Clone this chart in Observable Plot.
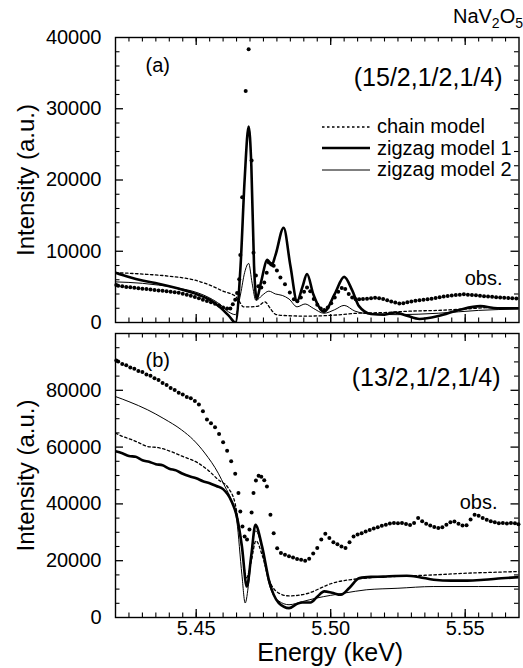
<!DOCTYPE html>
<html>
<head>
<meta charset="utf-8">
<script src="https://cdn.jsdelivr.net/npm/d3@7"></script>
<script src="https://cdn.jsdelivr.net/npm/@observablehq/plot@0.6"></script>
<style>
  body { margin: 0; background: #fff; }
  #wrap { position: relative; width: 523px; height: 668px; font-family: "Liberation Sans", Arial, Helvetica, sans-serif; color: #000; overflow: hidden; }
  #wrap svg { display: block; }
  .abs { position: absolute; }
  .lrow { display: flex; align-items: center; height: 21.5px; font-size: 20px; white-space: nowrap; }
  .lrow svg { margin-right: 7px; }
</style>
</head>
<body>
<div id="wrap"></div>
<script>
// ---------- axis ticks / labels ----------
const xDomain = [5.42, 5.57];
const xMinorTicks = [5.425,5.43,5.435,5.44,5.445,5.45,5.455,5.46,5.465,5.47,5.475,5.48,5.485,5.49,5.495,5.5,5.505,5.51,5.515,5.52,5.525,5.53,5.535,5.54,5.545,5.55,5.555,5.56,5.565];
const xMajorTicks = [5.45, 5.5, 5.55];
const xTickLabels = [5.45, 5.5, 5.55];

const aYDomain = [0, 40000];
const aYMinor = [2000,4000,6000,8000,12000,14000,16000,18000,22000,24000,26000,28000,32000,34000,36000,38000];
const aYMajor = [10000, 20000, 30000];
const aYLabels = [0, 10000, 20000, 30000, 40000];

const bYDomain = [0, 100000];
const bYMinor = [5000,10000,15000,25000,30000,35000,45000,50000,55000,65000,70000,75000,85000,90000,95000];
const bYMajor = [20000, 40000, 60000, 80000];
const bYLabels = [0, 20000, 40000, 60000, 80000];

// ---------- panel (a): (15/2,1/2,1/4) ----------
const obsAE = [
5.4203,5.421,5.4225,5.424,5.4255,5.427,5.4285,5.430,5.4315,5.433,
5.4345,5.436,5.4375,5.439,5.4405,5.442,5.4435,5.445,5.4465,5.448,
5.4495,5.451,5.4525,5.454,5.4555,5.457,5.4585,5.460,5.4615,
5.4627,5.4636,5.4645,5.4652,5.466,5.4664,5.4671,5.4684,5.4695,5.4706,
5.4713,5.4722,5.4731,5.4742,5.4753,5.4762,5.477,5.4779,5.4788,5.48,
5.4813,5.483,5.4848,5.4863,5.4876,5.4889,5.4901,5.4912,5.4924,5.4937,
5.495,5.4963,5.4976,5.4989,5.5002,5.5015,5.5028,5.5041,5.5054,5.5067,
5.508,5.5093,5.5106,
5.512,5.5135,5.515,5.5165,5.518,5.5195,5.521,5.5225,5.524,5.5255,
5.527,5.5285,5.530,5.5315,5.533,5.5345,5.536,5.5375,5.539,5.5405,
5.542,5.5435,5.545,5.5465,5.548,5.5495,5.551,5.5525,5.554,5.5555,
5.557,5.5585,5.560,5.5615,5.563,5.5645,5.566,5.5675,5.569];
const obsAI = [
5250,5160,5080,5000,4930,4880,4800,4740,4690,4620,
4560,4500,4450,4390,4330,4260,4170,4050,3900,3740,
3570,3390,3210,3030,2840,2620,2370,2120,1960,
1950,2560,3200,4150,6080,9460,17580,32500,38340,22750,
9800,6600,5100,4900,5600,7000,8420,8200,7960,7300,
6310,5380,4200,3270,3000,3500,4300,4900,4400,3300,
2500,1950,1750,2100,2700,3500,4300,4850,4700,4000,
3500,3250,3250,
3300,3350,3420,3460,3400,3310,3120,2950,2800,2660,
2700,2850,2960,3040,3110,3200,3260,3350,3440,3560,
3640,3710,3790,3860,3900,3950,3910,3860,3810,3760,
3700,3650,3600,3560,3500,3460,3440,3410,3380];

const chainAE = [5.42,5.43,5.44,5.45,5.456,5.46,5.4645,5.466,5.4675,5.4697,5.473,5.4755,5.4775,5.4795,5.482,5.49,5.50,5.51,5.52,5.53,5.54,5.55,5.56,5.57];
const chainAI = [7000,6800,6500,5900,5100,4400,3700,3000,2200,2200,2300,2900,2000,1150,1000,900,1000,1300,1400,1600,1700,1900,2100,2100];

const zig1AE = [5.42,5.425,5.43,5.436,5.443,5.4507,5.455,5.459,5.462,5.4646,5.4665,5.468,5.4695,5.4705,5.4715,5.4725,5.474,5.4765,5.478,5.4795,5.4825,5.485,5.4875,5.4895,5.4912,5.4935,5.4975,5.5015,5.505,5.508,5.5105,5.515,5.52,5.524,5.528,5.533,5.54,5.548,5.5556,5.562,5.57];
const zig1AI = [7000,6400,5900,5450,4800,3900,3200,2100,1000,0,8000,20000,27500,22000,8000,3300,5500,8800,8000,9500,13300,8000,3000,5000,6800,4000,1500,4000,6400,4500,2300,1200,1100,1400,1000,500,900,1800,2300,2000,2000];

const zig2AE = [5.42,5.43,5.436,5.443,5.4507,5.455,5.459,5.462,5.4646,5.4665,5.468,5.4695,5.4708,5.4722,5.4745,5.477,5.4795,5.482,5.4845,5.4875,5.4905,5.4935,5.4975,5.5015,5.505,5.509,5.515,5.525,5.54,5.555,5.57];
const zig2AI = [5700,5500,5250,4850,4150,3450,2500,1500,1100,4000,7000,8300,5500,3100,3800,4400,4000,3800,3300,2200,2600,2000,1300,1800,2400,1600,1200,1100,1300,1700,1900];

// ---------- panel (b): (13/2,1/2,1/4) ----------
const obsBE = [
5.4203,5.421,5.4225,5.424,5.4255,5.427,5.4285,5.430,5.4315,5.433,
5.4345,5.436,5.4375,5.439,5.4405,5.442,5.4435,5.445,5.4465,5.448,
5.4495,5.451,5.4525,5.454,5.4555,5.457,5.4585,5.460,5.4615,5.463,
5.4645,5.4657,5.4664,5.4672,5.468,5.4689,5.4698,5.4706,5.4713,5.4722,
5.4732,5.4742,5.4753,5.4763,5.4776,5.4788,5.4801,5.4815,5.483,5.4845,
5.486,5.4875,5.489,5.4905,5.492,5.4935,5.495,5.4965,5.498,5.4995,
5.501,5.5025,5.504,5.5055,5.507,5.5085,5.510,5.5115,5.513,5.5145,
5.516,5.5175,5.519,5.5205,5.522,5.5235,5.525,5.5265,5.528,5.5295,
5.531,5.5325,5.534,5.5355,5.537,5.5385,5.540,5.5415,5.543,5.5445,
5.546,5.5475,5.549,5.5505,5.552,5.5535,5.555,5.5565,5.558,5.5595,
5.561,5.5625,5.564,5.5655,5.567,5.5685,5.5698];
const obsBI = [
90500,90100,89300,88800,88000,87600,86800,86400,85600,85100,
84200,83600,82600,81900,80800,80100,79100,78500,77600,77200,
76200,75000,72600,69700,68400,67000,64600,61700,58700,55000,
50600,43800,37300,32000,28500,27500,31000,37000,43800,48200,
49900,49600,48300,46100,36200,29700,24400,22700,22100,21600,
21100,20600,20300,20000,20700,22500,24500,27500,29500,28000,
26500,25800,25000,24500,26500,28500,29200,29700,30300,30800,
31300,31800,32300,32700,33100,33300,33200,33300,32900,32600,
33300,35000,33900,33000,32400,31900,31500,31800,32700,33500,
33800,33000,32400,32500,34500,36200,35800,35000,34400,33900,
33500,33200,33300,33100,33300,33200,32800];

const chainBE = [5.42,5.4225,5.4255,5.4285,5.432,5.436,5.4407,5.445,5.4507,5.4545,5.4582,5.462,5.4645,5.4665,5.4687,5.4705,5.4722,5.4745,5.477,5.4807,5.4845,5.4907,5.5007,5.5132,5.525,5.5381,5.5506,5.56,5.57];
const chainBI = [64900,63800,62800,61600,60200,59800,58400,56700,54400,51800,48500,45500,40000,28000,14000,20000,27000,22000,13500,8600,7600,8300,12100,13900,14500,15000,15600,15900,16200];

const zig1BE = [5.42,5.4225,5.425,5.4275,5.43,5.4325,5.435,5.4375,5.44,5.4425,5.445,5.4475,5.45,5.4525,5.455,5.4575,5.46,5.4632,5.4651,5.467,5.4688,5.4705,5.472,5.4745,5.477,5.4807,5.4845,5.4875,5.4895,5.4925,5.495,5.4976,5.5005,5.5038,5.507,5.5107,5.515,5.5195,5.524,5.5283,5.533,5.5383,5.545,5.5508,5.557,5.5635,5.57];
const zig1BI = [58500,57800,56900,56600,55400,54800,54000,53600,52400,51800,50600,49700,49000,48000,47300,46300,45200,40800,35600,25000,10900,22000,32600,25000,13300,5100,3300,4800,5300,5300,7300,9200,8700,8000,10500,13900,14300,14400,14600,14700,14200,13300,13000,13000,13300,13800,14200];

const zig2BE = [5.42,5.425,5.432,5.438,5.4445,5.449,5.4532,5.4582,5.4607,5.463,5.4651,5.467,5.4682,5.4695,5.4712,5.4722,5.4745,5.477,5.4807,5.4845,5.4895,5.4945,5.5,5.5051,5.5132,5.525,5.5381,5.555,5.57];
const zig2BI = [77800,76000,73100,70000,66100,62500,57900,50800,46100,41500,34000,15000,5100,12000,28000,30500,24000,12100,5800,4500,5600,6800,7800,8600,9750,10300,10900,10900,10900];

// ---------- texts ----------
const yTitle = "Intensity (a.u.)";
const xTitle = "Energy (keV)";
const legendLabels = ["chain model", "zigzag model 1", "zigzag model 2"];

// ---------- build ----------
const FONT = '"Liberation Sans", Arial, Helvetica, sans-serif';
const WIDTH = 523, ML = 115, MR = 4.5;
const FW = WIDTH - ML - MR;
const pts = (E, I) => E.map((e, i) => ({e, v: I[i]}));

const lineStyles = {
  chain: {stroke: "#000", strokeWidth: 1.3, strokeDasharray: "2.5,2.5"},
  zig1: {stroke: "#000", strokeWidth: 2.6},
  zig2: {stroke: "#000", strokeWidth: 1}
};

function tickMarks(FH, yMinor, yMajor) {
  const m = 4.5, M = 8;
  return [
    Plot.ruleX(xMinorTicks, {insetTop: FH - m, strokeWidth: 1.1}),
    Plot.ruleX(xMinorTicks, {insetBottom: FH - m, strokeWidth: 1.1}),
    Plot.ruleX(xMajorTicks, {insetTop: FH - M, strokeWidth: 1.3}),
    Plot.ruleX(xMajorTicks, {insetBottom: FH - M, strokeWidth: 1.3}),
    Plot.ruleY(yMinor, {insetRight: FW - m, strokeWidth: 1.1}),
    Plot.ruleY(yMinor, {insetLeft: FW - m, strokeWidth: 1.1}),
    Plot.ruleY(yMajor, {insetRight: FW - M, strokeWidth: 1.3}),
    Plot.ruleY(yMajor, {insetLeft: FW - M, strokeWidth: 1.3})
  ];
}

function panel(o) {
  const FH = o.height - o.marginTop - o.marginBottom;
  const marks = [
    ...tickMarks(FH, o.yMinor, o.yMajor),
    Plot.line(pts(o.chainE, o.chainI), {x: "e", y: "v", curve: "monotone-x", clip: true, ...lineStyles.chain}),
    Plot.line(pts(o.zig2E, o.zig2I), {x: "e", y: "v", curve: "monotone-x", clip: true, ...lineStyles.zig2}),
    Plot.line(pts(o.zig1E, o.zig1I), {x: "e", y: "v", curve: "monotone-x", clip: true, ...lineStyles.zig1}),
    Plot.dot(pts(o.obsE, o.obsI), {x: "e", y: "v", r: 2, fill: "#000", stroke: "none"}),
    Plot.frame({stroke: "#000", strokeWidth: 1.4}),
    Plot.axisY({ticks: o.yLabels, tickSize: 0, tickPadding: 14, tickFormat: d => String(d), fontSize: 20, label: null}),
    Plot.text([yTitle], {frameAnchor: "left", rotate: -90, dx: -89, fontSize: 24, textAnchor: "middle", lineAnchor: "middle"}),
    Plot.text([o.tag], {frameAnchor: "top-left", dx: 30, dy: o.tagDy, fontSize: 20, textAnchor: "start", lineAnchor: "middle"}),
    Plot.text([o.hkl], {frameAnchor: "top-right", dx: o.hklDx, dy: o.hklDy, fontSize: 25, textAnchor: "end", lineAnchor: "middle"}),
    Plot.text(["obs."], {frameAnchor: "top-right", dx: o.obsDx, dy: o.obsDy, fontSize: 20, textAnchor: "end", lineAnchor: "middle"}),
    ...(o.extra || [])
  ];
  return Plot.plot({
    width: WIDTH, height: o.height,
    marginLeft: ML, marginRight: MR, marginTop: o.marginTop, marginBottom: o.marginBottom,
    x: {domain: xDomain, axis: o.xAxis ? undefined : null},
    y: {domain: o.yDomain},
    style: {fontFamily: FONT, fontSize: "20px", color: "#000", background: "#fff", overflow: "visible"},
    marks
  });
}

const plotA = panel({
  height: 327, marginTop: 37, marginBottom: 5,
  yDomain: aYDomain, yMinor: aYMinor, yMajor: aYMajor, yLabels: aYLabels,
  obsE: obsAE, obsI: obsAI, chainE: chainAE, chainI: chainAI,
  zig1E: zig1AE, zig1I: zig1AI, zig2E: zig2AE, zig2I: zig2AI,
  tag: "(a)", tagDy: 28, hkl: "(15/2,1/2,1/4)", hklDx: -16.5, hklDy: 40,
  obsDx: -16.5, obsDy: 241
});

const plotB = panel({
  height: 341, marginTop: 6, marginBottom: 51,
  yDomain: bYDomain, yMinor: bYMinor, yMajor: bYMajor, yLabels: bYLabels,
  obsE: obsBE, obsI: obsBI, chainE: chainBE, chainI: chainBI,
  zig1E: zig1BE, zig1I: zig1BI, zig2E: zig2BE, zig2I: zig2BI,
  tag: "(b)", tagDy: 27, hkl: "(13/2,1/2,1/4)", hklDx: -18.5, hklDy: 44,
  obsDx: -21.5, obsDy: 169, xAxis: true,
  extra: [
    Plot.axisX({ticks: xTickLabels, tickSize: 0, tickPadding: 3, tickFormat: d => d.toFixed(2), fontSize: 20, label: null}),
    Plot.text([xTitle], {frameAnchor: "bottom", dx: 13, dy: 35, fontSize: 25, textAnchor: "middle", lineAnchor: "middle"})
  ]
});

const wrap = document.getElementById("wrap");
wrap.appendChild(plotA);
wrap.appendChild(plotB);

// compound name (top right, above panel a)
const title = document.createElement("div");
title.className = "abs";
title.style.cssText = "right:0px;top:6px;font-size:20px;line-height:20px;";
title.innerHTML = 'NaV<sub style="font-size:14px;vertical-align:-5px;line-height:0">2</sub>O<sub style="font-size:14px;vertical-align:-5px;line-height:0">5</sub>';
wrap.appendChild(title);

// legend (inside panel a)
const legend = document.createElement("div");
legend.className = "abs";
legend.style.cssText = "left:322px;top:116px;";
const legendStyles = [lineStyles.chain, lineStyles.zig1, lineStyles.zig2];
legendLabels.forEach((lab, i) => {
  const s = legendStyles[i];
  const row = document.createElement("div");
  row.className = "lrow";
  row.innerHTML = `<svg width="48" height="8"><line x1="0" x2="48" y1="4" y2="4" stroke="#000" stroke-width="${s.strokeWidth}" ${s.strokeDasharray ? `stroke-dasharray="${s.strokeDasharray}"` : ""}/></svg><span>${lab}</span>`;
  legend.appendChild(row);
});
wrap.appendChild(legend);
</script>
</body>
</html>
